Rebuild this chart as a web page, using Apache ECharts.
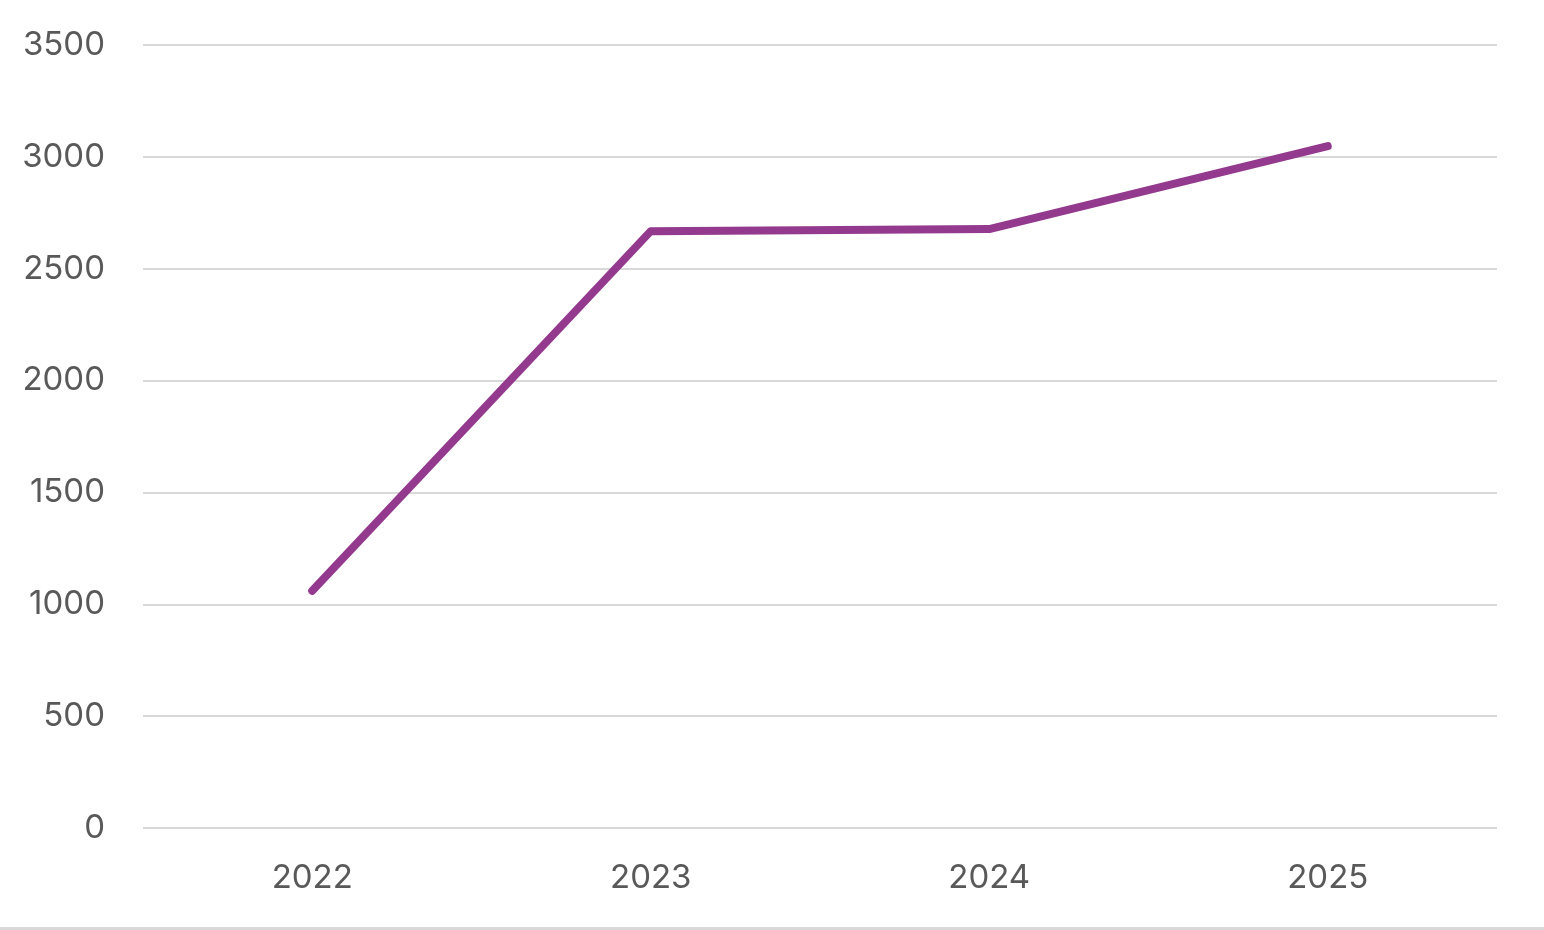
<!DOCTYPE html>
<html>
<head>
<meta charset="utf-8">
<script src="https://cdn.jsdelivr.net/npm/echarts@6/dist/echarts.min.js"></script>
<style>
  html, body { margin: 0; padding: 0; background: #fff; }
  #chart { width: 1544px; height: 930px; }
</style>
</head>
<body>
<div id="chart"></div>
<script>
const years = ["2022", "2023", "2024", "2025"];
const values = [1060, 2668, 2677, 3048];

const chart = echarts.init(document.getElementById("chart"));

chart.setOption({
  animation: false,
  grid: {
    left: 143,
    right: 47,
    top: 45,
    bottom: 102,
  },
  xAxis: {
    type: "category",
    data: years,
    boundaryGap: true,
    axisLine: { show: false },
    axisTick: { show: false },
    axisLabel: {
      color: "#595959",
      fontSize: 33,
      fontFamily: "Inter",
      margin: 34,
    },
  },
  yAxis: {
    type: "value",
    min: 0,
    max: 3500,
    interval: 500,
    axisLine: { show: false },
    axisTick: { show: false },
    axisLabel: {
      color: "#595959",
      fontSize: 33,
      fontFamily: "Inter",
      margin: 38,
      formatter: (v) => String(v),
    },
    splitLine: {
      lineStyle: { color: "#d9d9d9", width: 2 },
    },
  },
  // thin border along the bottom edge
  graphic: [
    {
      type: "rect",
      left: 0,
      bottom: 0,
      shape: { width: 1544, height: 3 },
      style: { fill: "#d9d9d9" },
    },
  ],
  series: [
    {
      type: "line",
      data: values,
      symbol: "none",
      lineStyle: { color: "#933a8f", width: 8, cap: "round", join: "round" },
    },
  ],
});
</script>
</body>
</html>
